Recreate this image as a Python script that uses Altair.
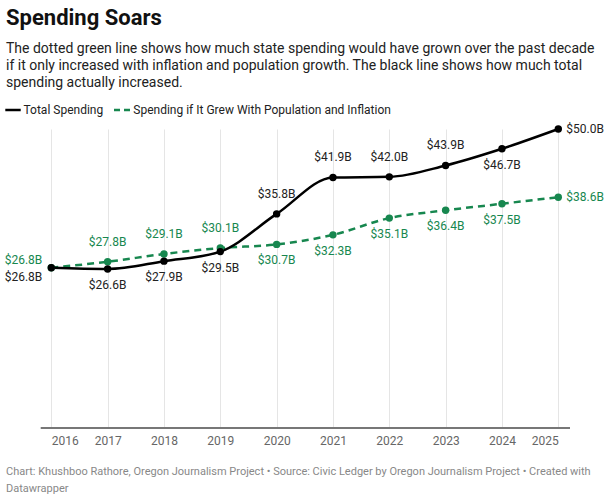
import altair as alt
import pandas as pd

years = [2016, 2017, 2018, 2019, 2020, 2021, 2022, 2023, 2024, 2025]
total_spending = [26.8, 26.6, 27.9, 29.5, 35.8, 41.9, 42.0, 43.9, 46.7, 50.0]
projected_spending = [26.8, 27.8, 29.1, 30.1, 30.7, 32.3, 35.1, 36.4, 37.5, 38.6]
total_label_side = ["left", "below", "below", "below", "above", "above", "above", "above", "below", "right"]
projected_label_side = ["left", "above", "above", "above", "below", "below", "below", "below", "below", "right"]

series_names = ["Total Spending", "Spending if It Grew With Population and Inflation"]
title_text = "Spending Soars"
subtitle_lines = [
    "The dotted green line shows how much state spending would have grown over the past decade",
    "if it only increased with inflation and population growth. The black line shows how much total",
    "spending actually increased.",
]
footer_lines = [
    "Chart: Khushboo Rathore, Oregon Journalism Project \u2022 Source: Civic Ledger by Oregon Journalism Project \u2022 Created with",
    "Datawrapper",
]

BLACK = "#000000"
GREEN = "#17874f"
FONT = "Roboto"

W, H = 530, 299

df = pd.concat([
    pd.DataFrame({"year": years, "value": total_spending, "series": series_names[0], "side": total_label_side}),
    pd.DataFrame({"year": years, "value": projected_spending, "series": series_names[1], "side": projected_label_side}),
])

x_enc = alt.X("year:Q", scale=alt.Scale(domain=[2016, 2025], range=[11.3, 518.3]),
              axis=alt.Axis(values=years, format="d", title=None, domain=False, ticks=False,
                            grid=True, gridColor="#e5e5e5", gridWidth=1,
                            labelFont=FONT, labelFontSize=12, labelColor="#666666", labelPadding=7))
y_enc = alt.Y("value:Q", scale=alt.Scale(domain=[0, 50], zero=True, nice=False), axis=None)

base = alt.Chart(df).encode(x=x_enc, y=y_enc)

line_total = base.transform_filter(alt.datum.series == series_names[0]).mark_line(
    color=BLACK, strokeWidth=2.5, interpolate="monotone")
line_proj = base.transform_filter(alt.datum.series == series_names[1]).mark_line(
    color=GREEN, strokeWidth=2.5, strokeDash=[7, 5], interpolate="monotone")
pts_total = base.transform_filter(alt.datum.series == series_names[0]).mark_circle(
    color=BLACK, size=55, opacity=1)
pts_proj = base.transform_filter(alt.datum.series == series_names[1]).mark_circle(
    color=GREEN, size=55, opacity=1)

label_base = base.transform_calculate(
    label="'$' + format(datum.value, '.1f') + 'B'"
).encode(text="label:N")

def labels(series, color, side, **kw):
    return label_base.transform_filter(
        (alt.datum.series == series) & (alt.datum.side == side)
    ).mark_text(font=FONT, fontSize=12, color=color, baseline="middle", **kw)

label_layers = []
for s, c in [(series_names[0], "#222222"), (series_names[1], GREEN)]:
    label_layers.append(labels(s, c, "above", align="center", dy=-20))
    label_layers.append(labels(s, c, "below", align="center", dy=16))
    label_layers.append(labels(s, c, "right", align="left", dx=8))
label_layers.append(labels(series_names[0], "#222222", "left", align="right", dx=-9, dy=9))
label_layers.append(labels(series_names[1], GREEN, "left", align="right", dx=-9, dy=-8))

one = pd.DataFrame({"a": [0]})
baseline_rule = alt.Chart(one).mark_rule(color="#777777", strokeWidth=2).encode(
    x=alt.value(0.7), x2=alt.value(W), y=alt.value(H))

def txt(text, x, y, size, color="#222222", weight="normal"):
    return alt.Chart(pd.DataFrame({"t": [text]})).mark_text(
        font=FONT, fontSize=size, color=color, fontWeight=weight, align="left", baseline="middle"
    ).encode(text="t:N", x=alt.value(x), y=alt.value(y))

deco = [txt(title_text, -34, -111, 22, "#111111", "bold")]
for i, line in enumerate(subtitle_lines):
    deco.append(txt(line, -34, -80.5 + 17 * i, 14, "#222222"))
for i, line in enumerate(footer_lines):
    deco.append(txt(line, -34, 343 + 17 * i, 11, "#888888"))

# legend
deco.append(alt.Chart(one).mark_rule(color=BLACK, strokeWidth=2.5).encode(
    x=alt.value(-34.7), x2=alt.value(-19.3), y=alt.value(-19)))
deco.append(txt(series_names[0], -16.5, -19, 12, "#222222"))
deco.append(alt.Chart(one).mark_rule(color=GREEN, strokeWidth=2.5, strokeDash=[6, 4]).encode(
    x=alt.value(74), x2=alt.value(91), y=alt.value(-19)))
deco.append(txt(series_names[1], 93.3, -19, 12, "#222222"))

chart = alt.layer(
    baseline_rule, line_proj, line_total, pts_proj, pts_total, *label_layers, *deco
).properties(
    width=W, height=H,
    autosize=alt.AutoSizeParams(type="none"),
    padding={"left": 40, "top": 129, "right": 40, "bottom": 72},
    background="white",
).configure_view(stroke=None)

chart.save("out.html", embed_options={"renderer": "svg", "actions": False})
